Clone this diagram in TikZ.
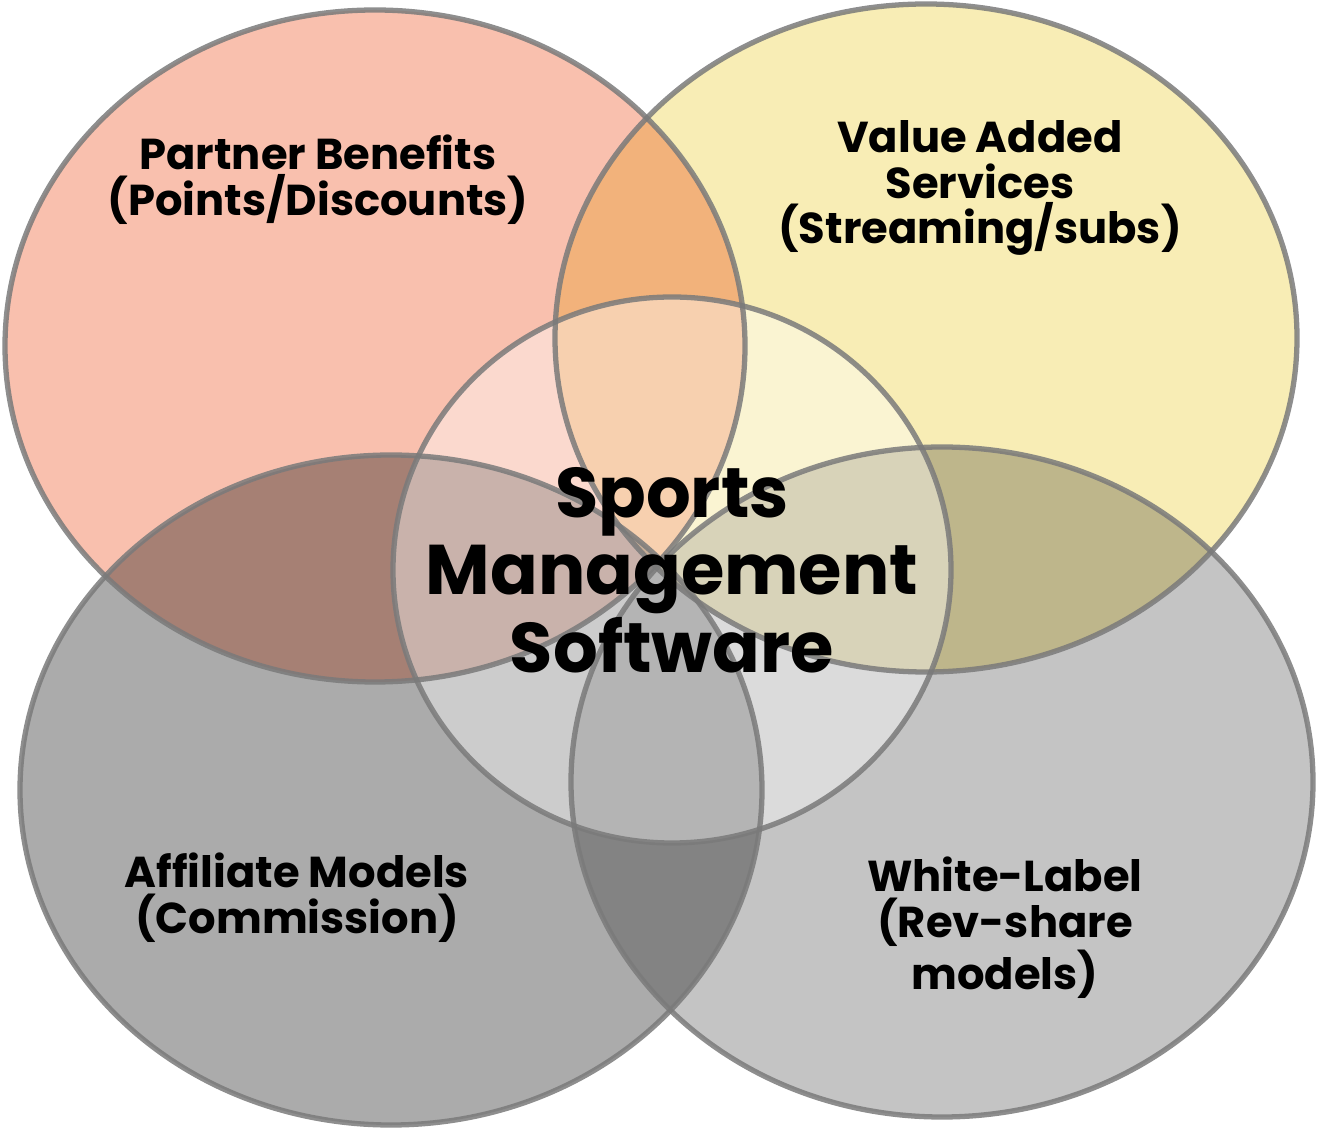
\documentclass[tikz,border=0pt]{standalone}
\usepackage{fontspec}
\setmainfont{Poppins}[BoldFont={* Bold}]
\begin{document}
\begin{tikzpicture}[x=0.01cm,y=-0.01cm,
  ring/.style={draw=black!52,line width=1.5pt},
  lab/.style={font=\fontsize{12.3pt}{13pt}\selectfont\bfseries,align=center},
  big/.style={font=\fontsize{20pt}{22pt}\selectfont\bfseries,align=center}]
\useasboundingbox (0,0) rectangle (1318,1128);
\begin{scope}[blend group=multiply]
\fill[fill={rgb,255:red,249;green,192;blue,174}] (375,346) ellipse [x radius=370,y radius=336];
\fill[fill={rgb,255:red,248;green,237;blue,181}] (926,338) ellipse [x radius=371,y radius=334];
\fill[fill={rgb,255:red,171;green,171;blue,171}] (391,790) ellipse [x radius=371,y radius=335];
\fill[fill={rgb,255:red,196;green,196;blue,196}] (942,782) ellipse [x radius=371,y radius=335];
\end{scope}
\fill[white,fill opacity=0.4] (672,570) ellipse [x radius=279,y radius=273];
\begin{scope}[draw opacity=0.85]
\draw[ring] (375,346) ellipse [x radius=370,y radius=336];
\draw[ring] (926,338) ellipse [x radius=371,y radius=334];
\draw[ring] (391,790) ellipse [x radius=371,y radius=335];
\draw[ring] (942,782) ellipse [x radius=371,y radius=335];
\draw[ring] (672,570) ellipse [x radius=279,y radius=273];
\end{scope}
\node[lab] (pb) at (318,180) {Partner Benefits\\(Points/Discounts)};
\node[lab] (va) at (980,188) {Value Added\\Services\\(Streaming/subs)};
\node[big] (sm) at (672,570) {Sports\\Management\\Software};
\node[lab] (af) at (297,898) {Affiliate Models\\(Commission)};
\node[lab] (wl) at (1005,928) {White-Label\\(Rev-share\\models)};
\end{tikzpicture}
\end{document}
